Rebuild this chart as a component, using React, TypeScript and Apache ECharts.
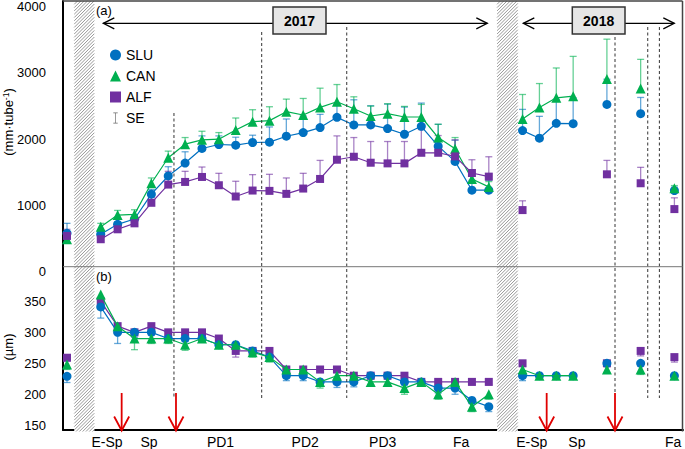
import React, { useEffect, useRef } from "react";
import * as echarts from "echarts";

// ---- data (index = sampling occasion, 0..36) ----
const sluRoot = [580, null, 565, 715, 795, 1170, 1445, 1640, 1860, 1920, 1910, 1950, 1955, 2045, 2100, 2175, 2330, 2215, 2215, 2160, 2075, 2195, 1895, 1665, 1230, 1230, null, 2130, 2015, 2240, 2235, null, 2525, null, 2385, null, 1225];
const canRoot = [490, null, 680, 855, 865, 1335, 1720, 1925, 1990, 2000, 2140, 2265, 2280, 2415, 2365, 2480, 2565, 2460, 2350, 2385, 2335, 2335, 2025, 1855, 1400, 1280, null, 2305, 2480, 2625, 2650, null, 2910, null, 2765, null, 1260];
const alfRoot = [540, null, 490, 640, 730, 1040, 1315, 1355, 1430, 1305, 1135, 1225, 1220, 1175, 1255, 1400, 1690, 1735, 1645, 1635, 1635, 1795, 1795, 1740, 1490, 1435, null, 930, null, null, null, null, 1470, null, 1335, null, 945];

const sluRootSE = [150, null, 40, 40, 50, 70, 140, 170, 190, 130, 120, 110, 230, 260, 250, 200, 200, 380, 290, 370, 410, 350, 330, 320, 150, 150, null, 320, 330, 360, 390, null, 380, null, 245, null, 50];
const canRootSE = [60, null, 50, 70, 70, 80, 100, 100, 130, 100, 180, 180, 210, 190, 250, 290, 260, 180, 150, 150, 160, 190, 200, 170, 100, 80, null, 370, 360, 450, 600, null, 600, null, 440, null, 40];
const alfRootSE = [100, null, 30, 40, 50, 80, 200, 160, 150, 180, 230, 240, 250, 240, 230, 280, 360, 290, 320, 330, 330, 350, 260, 250, 200, 300, null, 140, null, null, null, null, 210, null, 240, null, 170];

const sluDiam = [229, null, 341, 300, 300, 300, 290, 290, 290, 280, 280, 270, 260, 230, 230, 220, 220, 220, 230, 230, 220, 220, 210, 210, 190, 180, null, 230, 230, 230, 230, null, 250, null, 250, null, 230];
const canDiam = [248, null, 361, 310, 290, 290, 290, 280, 290, 280, 280, 268, 260, 240, 240, 220, 230, 230, 220, 220, 210, 220, 200, 220, 180, 200, null, 240, 230, 230, 230, null, 240, null, 240, null, 230];
const alfDiam = [259, null, 350, 310, 300, 310, 300, 300, 300, 290, 270, 270, 270, 240, 240, 240, 240, 230, 230, 230, 230, 220, 220, 220, 220, 220, null, 250, null, null, null, null, 250, null, 270, null, 260];

const sluDiamSE = [10, null, 18, 18, 8, 5, 5, 5, 5, 5, 5, 5, 6, 8, 8, 5, 9, 8, 5, 5, 5, 5, 8, 10, 5, 8, null, 8, 5, 5, 5, null, 5, null, 5, null, 3];
const canDiamSE = [8, null, 10, 8, 18, 8, 8, 9, 5, 5, 5, 8, 8, 5, 5, 10, 5, 5, 5, 5, 10, 5, 8, 5, 8, 8, null, 5, 5, 5, 5, null, 5, null, 8, null, 3];
const alfDiamSE = [5, null, 10, 5, 5, 5, 5, 5, 5, 5, 10, 5, 5, 5, 8, 5, 5, 5, 5, 5, 5, 5, 5, 5, 5, 5, null, 5, null, null, null, null, 5, null, 8, null, 8];

const periodLabels = ["E-Sp", "Sp", "PD1", "PD2", "PD3", "Fa", "E-Sp", "Sp", "Fa"];
const periodCenters = [2.37, 4.86, 9.1, 14.12, 18.71, 23.36, 27.55, 30.22, 35.93];
const rootTicks = [0, 1000, 2000, 3000, 4000];
const diamTicks = [150, 200, 250, 300, 350];
const years = ["2017", "2018"];

// decoration positions (x in sampling-index units)
const hatchSpans = [[0.43, 1.62], [25.49, 26.72]];
const dashedX = [6.34, 11.54, 16.58, 32.48, 34.42, 35.11];
const dashedTop = [113, 32, 27, 37, 27, 27];
const dashedBottom = [398, 398, 398, 392, 398, 398];
const arrowX = [3.24, 6.46, 28.43, 32.48];

const FONT = "'Liberation Sans', Arial, Helvetica, sans-serif";
const C_SLU = "#0070C0";
const C_CAN = "#00B050";
const C_ALF = "#7030A0";
const X_MIN = -0.237;
const X_MAX = 36.51;

function lineData(arr: (number | null)[]) {
  return arr.map((v, i) => [i, v == null ? "-" : v]);
}
function barData(arr: (number | null)[], se: (number | null)[]) {
  const out: number[][] = [];
  arr.forEach((v, i) => {
    if (v != null && se[i] != null) out.push([i, v, se[i] as number]);
  });
  return out;
}

function errorSeries(name: string, arr: any[], se: any[], axis: number, dir: number, color: string) {
  return {
    type: "custom",
    name,
    xAxisIndex: axis,
    yAxisIndex: axis,
    z: 1,
    silent: true,
    dimensions: ["x", "y", "e"],
    encode: { x: 0, y: 1 },
    data: barData(arr, se),
    renderItem: (params: any, api: any) => {
      const x = api.value(0);
      const y = api.value(1);
      const e = api.value(2);
      const p0 = api.coord([x, y]);
      const p1 = api.coord([x, y + dir * e]);
      const hw = 3.5;
      const style = { stroke: color, lineWidth: 1.3, opacity: 0.6 };
      return {
        type: "group",
        children: [
          { type: "line", shape: { x1: p0[0], y1: p0[1], x2: p1[0], y2: p1[1] }, style },
          { type: "line", shape: { x1: p1[0] - hw, y1: p1[1], x2: p1[0] + hw, y2: p1[1] }, style },
        ],
      };
    },
  };
}

function lineSeries(name: string, arr: any[], axis: number, color: string, symbol: string, size: number, z: number) {
  return {
    type: "line",
    name,
    xAxisIndex: axis,
    yAxisIndex: axis,
    z,
    data: lineData(arr),
    symbol,
    symbolSize: size,
    showAllSymbol: true,
    connectNulls: false,
    lineStyle: { color, width: 1.2 },
    itemStyle: { color },
  };
}

export default function App() {
  const ref = useRef<HTMLDivElement>(null);

  useEffect(() => {
    const chart = echarts.init(ref.current!, null, { renderer: "svg" });

    const axisLabelBase = { color: "#000", fontFamily: FONT };

    chart.setOption({
      animation: false,
      backgroundColor: "#fff",
      grid: [
        { left: 63, top: 1, width: 620, height: 270.7 },
        { left: 63, top: 266.7, width: 620, height: 164.8 },
      ],
      xAxis: [
        {
          gridIndex: 0, type: "value", min: X_MIN, max: X_MAX,
          axisLine: { show: false }, axisTick: { show: false }, axisLabel: { show: false }, splitLine: { show: false },
        },
        {
          gridIndex: 1, type: "value", min: X_MIN, max: X_MAX,
          axisLine: { show: true, onZero: false, lineStyle: { color: "#000", width: 2 } },
          axisTick: { show: false },
          splitLine: { show: false },
          axisLabel: {
            ...axisLabelBase,
            fontSize: 14,
            margin: 5,
            customValues: periodCenters,
            formatter: (v: number) => {
              const k = periodCenters.findIndex((c) => Math.abs(c - v) < 1e-6);
              return k >= 0 ? periodLabels[k] : "";
            },
          },
        },
      ],
      yAxis: [
        {
          gridIndex: 0, type: "value", min: 0, max: 4086,
          axisLine: { show: true, onZero: false, lineStyle: { color: "#000", width: 2 } },
          axisTick: { show: false }, splitLine: { show: false },
          axisLabel: { ...axisLabelBase, fontSize: 13, margin: 17, customValues: rootTicks, formatter: (v: number) => String(v) },
        },
        {
          gridIndex: 1, type: "value", min: 142.3, max: 406,
          axisLine: { show: true, onZero: false, lineStyle: { color: "#000", width: 2 } },
          axisTick: { show: false }, splitLine: { show: false },
          axisLabel: { ...axisLabelBase, fontSize: 13, margin: 17, customValues: diamTicks, formatter: (v: number) => String(v) },
        },
      ],
      legend: {
        orient: "vertical",
        left: 105,
        top: 43,
        itemWidth: 11,
        itemHeight: 11,
        itemGap: 7,
        selectedMode: false,
        textStyle: { fontSize: 14, color: "#000", fontFamily: FONT },
        data: [
          { name: "SLU", icon: "circle" },
          { name: "CAN", icon: "triangle" },
          { name: "ALF", icon: "rect" },
          {
            name: "SE",
            icon: "path://M0,0H8V1.2H4.6V18.8H8V20H0V18.8H3.4V1.2H0Z",
            itemStyle: { color: "#666" },
          },
        ],
      },
      series: [
        // top panel: root length (error bars upward)
        errorSeries("SE", sluRoot, sluRootSE, 0, 1, C_SLU),
        errorSeries("SE", canRoot, canRootSE, 0, 1, C_CAN),
        errorSeries("SE", alfRoot, alfRootSE, 0, 1, C_ALF),
        lineSeries("SLU", sluRoot, 0, C_SLU, "circle", 9, 2),
        lineSeries("CAN", canRoot, 0, C_CAN, "triangle", 10, 3),
        lineSeries("ALF", alfRoot, 0, C_ALF, "rect", 8, 4),
        // bottom panel: diameter (error bars downward)
        errorSeries("SE", sluDiam, sluDiamSE, 1, -1, C_SLU),
        errorSeries("SE", canDiam, canDiamSE, 1, -1, C_CAN),
        errorSeries("SE", alfDiam, alfDiamSE, 1, -1, C_ALF),
        lineSeries("ALF", alfDiam, 1, C_ALF, "rect", 8, 2),
        lineSeries("SLU", sluDiam, 1, C_SLU, "circle", 9, 3),
        lineSeries("CAN", canDiam, 1, C_CAN, "triangle", 10, 4),
      ],
    });

    const px = (v: number) => chart.convertToPixel({ xAxisIndex: 1 }, v) as number;
    const TOP = 1;
    const BOTTOM = 431.5;
    const LEFT = 63;
    const RIGHT = 682.5;
    const DIV = 266.7;

    const g: any[] = [];

    // hatched gaps
    hatchSpans.forEach(([a, b]) => {
      const xa = px(a);
      const xb = px(b);
      g.push({ type: "rect", shape: { x: xa, y: TOP, width: xb - xa, height: BOTTOM - TOP }, style: { fill: "#fff" }, z: 5 });
      for (let c = xa + TOP; c <= xb + BOTTOM; c += 3.3) {
        const x1 = Math.max(xa, c - BOTTOM);
        const x2 = Math.min(xb, c - TOP);
        if (x2 <= x1) continue;
        g.push({
          type: "line",
          shape: { x1, y1: c - x1, x2, y2: c - x2 },
          style: { stroke: "#8c8c8c", lineWidth: 0.9 },
          z: 6,
        });
      }
    });

    // frame
    g.push({ type: "line", shape: { x1: LEFT, y1: TOP, x2: RIGHT, y2: TOP }, style: { stroke: "#444", lineWidth: 1.5 }, z: 8 });
    g.push({ type: "line", shape: { x1: RIGHT, y1: TOP, x2: RIGHT, y2: BOTTOM }, style: { stroke: "#444", lineWidth: 1.5 }, z: 8 });
    g.push({ type: "line", shape: { x1: LEFT, y1: DIV, x2: RIGHT, y2: DIV }, style: { stroke: "#777", lineWidth: 1 }, z: 8 });

    // dashed period boundaries
    dashedX.forEach((v, i) => {
      const x = px(v);
      g.push({
        type: "line",
        shape: { x1: x, y1: dashedTop[i], x2: x, y2: dashedBottom[i] },
        style: { stroke: "#333", lineWidth: 1, lineDash: [3, 2.5] },
        z: 7,
      });
    });

    // red arrows
    arrowX.forEach((v) => {
      const x = px(v);
      g.push({ type: "line", shape: { x1: x, y1: 393, x2: x, y2: 430 }, style: { stroke: "#E00000", lineWidth: 1.8 }, z: 9 });
      g.push({
        type: "polyline",
        shape: { points: [[x - 7.5, 416.5], [x, 430.5], [x + 7.5, 416.5]] },
        style: { stroke: "#E00000", lineWidth: 1.8, fill: "none" },
        z: 9,
      });
    });

    // year arrows with boxes
    const yearSpec = [
      { l: 103.3, r: 487.3, bx: 273, bw: 53 },
      { l: 523.3, r: 674.3, bx: 572.3, bw: 52.7 },
    ];
    yearSpec.forEach((s, i) => {
      const ay = 23.3;
      g.push({ type: "line", shape: { x1: s.l, y1: ay, x2: s.r, y2: ay }, style: { stroke: "#000", lineWidth: 1.3 }, z: 10 });
      g.push({ type: "polyline", shape: { points: [[s.l + 11, ay - 5.5], [s.l, ay], [s.l + 11, ay + 5.5]] }, style: { stroke: "#000", lineWidth: 1.3, fill: "none" }, z: 10 });
      g.push({ type: "polyline", shape: { points: [[s.r - 11, ay - 5.5], [s.r, ay], [s.r - 11, ay + 5.5]] }, style: { stroke: "#000", lineWidth: 1.3, fill: "none" }, z: 10 });
      g.push({ type: "rect", shape: { x: s.bx, y: 7, width: s.bw, height: 27 }, style: { fill: "#E6E6E6", stroke: "#333", lineWidth: 1.5 }, z: 11 });
      g.push({
        type: "text", x: s.bx + s.bw / 2, y: 20.8, z: 12,
        style: { text: years[i], fontSize: 14, fontWeight: "bold", fontFamily: FONT, fill: "#000", align: "center", verticalAlign: "middle" },
      });
    });

    // panel tags
    g.push({ type: "text", x: 96, y: 10.5, z: 12, style: { text: "(a)", fontSize: 13, fontFamily: FONT, fill: "#000", verticalAlign: "middle" } });
    g.push({ type: "text", x: 96, y: 276.5, z: 12, style: { text: "(b)", fontSize: 13, fontFamily: FONT, fill: "#000", verticalAlign: "middle" } });

    // y axis titles
    g.push({
      type: "text", x: 8.5, y: 122, rotation: Math.PI / 2, z: 12,
      style: {
        text: "(mm·tube{sup|-1})",
        fontSize: 13, fontFamily: FONT, fill: "#000", align: "center", verticalAlign: "middle",
        rich: { sup: { fontSize: 8.5, fontFamily: FONT, fill: "#000", verticalAlign: "top", lineHeight: 15, padding: [0, 0, 4, 0] } },
      },
    });
    g.push({
      type: "text", x: 8.5, y: 347, rotation: Math.PI / 2, z: 12,
      style: { text: "(µm)", fontSize: 13, fontFamily: FONT, fill: "#000", align: "center", verticalAlign: "middle" },
    });

    chart.setOption({ graphic: g });

    return () => chart.dispose();
  }, []);

  return <div ref={ref} style={{ position: "absolute", left: 0, top: 0, width: 685, height: 449 }} />;
}
